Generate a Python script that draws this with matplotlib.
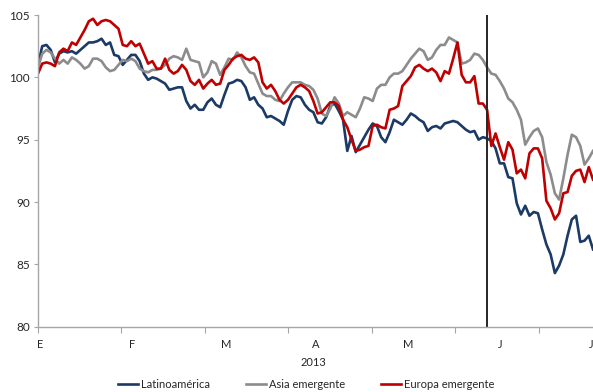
import numpy as np
import matplotlib
matplotlib.use("Agg")
from matplotlib import pyplot as plt

# índices base 100, datos diarios ene-jun 2013
latam = [101.0, 102.5, 102.6, 102.2, 101.2, 101.9, 102.1, 102.0, 102.1, 101.9,
         102.2, 102.5, 102.8, 102.8, 102.9, 103.1, 102.6, 102.8, 101.8, 101.7,
         101.0, 101.4, 101.8, 101.8, 101.3, 100.3, 99.8, 100.0, 99.9, 99.7,
         99.5, 99.0, 99.1, 99.2, 99.2, 98.1, 97.5, 97.8, 97.4, 97.4,
         98.0, 98.3, 97.8, 97.6, 98.6, 99.5, 99.6, 99.8, 99.7, 99.2,
         98.2, 98.4, 97.8, 97.5, 96.8, 96.9, 96.7, 96.5, 96.2, 97.3,
         98.2, 98.5, 98.4, 97.8, 97.4, 97.2, 96.4, 96.3, 96.8, 97.7,
         97.9, 97.3, 96.6, 94.1, 95.3, 94.0, 94.6, 95.2, 95.8, 96.3,
         96.1, 95.2, 94.8, 95.6, 96.6, 96.4, 96.2, 96.6, 97.1, 96.9,
         96.6, 96.4, 95.7, 96.0, 96.1, 95.9, 96.3, 96.4, 96.5, 96.4,
         96.1, 95.8, 95.6, 95.7, 95.0, 95.2, 95.1, 94.9, 94.3, 93.1,
         93.1, 92.0, 91.9, 89.9, 89.0, 89.7, 88.9, 89.2, 89.1, 87.8,
         86.6, 85.8, 84.3, 84.9, 85.8, 87.3, 88.6, 88.9, 86.8, 86.9,
         87.3, 86.2]

asia = [100.8, 101.9, 102.2, 102.0, 101.5, 101.1, 101.4, 101.1, 101.6, 101.4,
        101.1, 100.7, 100.9, 101.5, 101.5, 101.3, 100.8, 100.5, 100.6, 101.0,
        101.4, 101.3, 101.5, 101.3, 100.7, 100.5, 100.4, 100.6, 100.6, 100.7,
        101.0, 101.5, 101.7, 101.6, 101.4, 102.3, 101.4, 101.3, 101.2, 100.0,
        100.4, 101.3, 101.1, 100.2, 100.8, 101.5, 101.4, 102.0, 101.6, 100.9,
        100.4, 100.3, 99.5, 98.7, 98.5, 98.5, 98.2, 98.1, 98.7, 99.2,
        99.6, 99.6, 99.6, 99.4, 99.3, 99.0, 98.3, 97.1, 96.9, 97.5,
        98.4, 97.9, 96.9, 97.2, 97.0, 96.8, 97.5, 98.4, 98.3, 98.1,
        99.1, 99.4, 99.4, 100.0, 100.3, 100.3, 100.5, 101.0, 101.5, 101.9,
        102.3, 102.1, 101.4, 101.6, 102.2, 102.6, 102.6, 103.2, 103.0, 102.8,
        101.1, 101.2, 101.4, 101.9, 101.8, 101.4, 100.8, 100.3, 100.2, 99.7,
        99.1, 98.3, 98.0, 97.4, 96.6, 94.6, 95.2, 95.7, 95.9, 95.2,
        93.2, 92.2, 90.7, 90.2, 91.9, 93.8, 95.4, 95.2, 94.5, 93.0,
        93.5, 94.1]

europa = [100.3, 101.1, 101.2, 101.1, 100.9, 102.0, 102.3, 102.1, 102.8, 102.6,
          103.2, 103.8, 104.5, 104.7, 104.2, 104.5, 104.6, 104.5, 104.2, 103.9,
          102.6, 102.5, 102.9, 102.5, 102.7, 101.9, 101.1, 101.3, 100.7, 100.7,
          101.5, 100.6, 100.3, 100.5, 101.0, 100.6, 99.7, 99.4, 99.8, 99.1,
          99.5, 99.8, 99.4, 99.5, 100.6, 101.0, 101.5, 101.7, 101.8, 101.5,
          101.4, 101.6, 101.2, 99.6, 99.1, 99.4, 98.9, 98.2, 97.9, 98.2,
          98.7, 99.2, 99.4, 99.2, 98.9, 98.1, 97.1, 97.2, 97.6, 98.0,
          98.0, 97.7, 96.6, 96.0, 95.0, 94.1, 94.2, 94.4, 94.5, 96.1,
          96.2, 96.0, 95.9, 97.4, 97.5, 97.7, 99.3, 99.7, 100.1, 100.8,
          101.0, 100.7, 100.5, 100.7, 100.4, 99.7, 100.5, 100.3, 101.5, 102.8,
          100.2, 99.6, 99.6, 100.1, 97.9, 97.9, 97.4, 94.5, 95.5, 94.4,
          93.4, 94.8, 94.2, 92.3, 92.6, 91.9, 93.9, 94.3, 94.3, 93.5,
          90.1, 89.5, 88.6, 89.1, 90.7, 90.8, 92.1, 92.5, 92.6, 91.6,
          92.8, 91.8]

meses = ['E', 'F', 'M', 'A', 'M', 'J', 'J']
corte = 106  # linea vertical (fin de mayo)

plt.rcParams['font.family'] = ['Lato', 'DejaVu Sans']

fig = plt.figure(figsize=(5.93, 3.92), dpi=100)
ax = fig.add_axes([38/593, 0.1666, 555/593, 0.9617 - 0.1666])

x = np.arange(len(latam))
ax.plot(x, latam, color='#1B3A66', lw=1.9, label='Latinoamérica')
ax.plot(x, asia, color='#8C8C8C', lw=1.9, label='Asia emergente')
ax.plot(x, europa, color='#C00000', lw=1.9, label='Europa emergente')
ax.axvline(corte, color='#262626', lw=1.4)

ax.set_xlim(0, len(latam) - 1)
ax.set_ylim(80, 105)
ax.set_yticks(np.arange(80, 106, 5))

for s in ['top', 'right']:
    ax.spines[s].set_visible(False)
for s in ['left', 'bottom']:
    ax.spines[s].set_color('#A6A6A6')
    ax.spines[s].set_linewidth(1.0)

ax.tick_params(axis='y', length=3, color='#A6A6A6', labelsize=8.5,
               labelcolor='#262626', pad=3)
ax.set_xticks(np.arange(0, 131, 19.7))
ax.set_xticklabels([])
ax.tick_params(axis='x', which='major', length=4, color='#A6A6A6')
ax.set_xticks([0.5, 22.2, 44.4, 65.6, 87.3, 109, 130.6], minor=True)
ax.set_xticklabels(meses, minor=True)
ax.tick_params(axis='x', which='minor', length=0, labelsize=8,
               labelcolor='#262626', pad=9)

fig.text(313/593, 1 - 362/392, '2013', ha='center', va='center',
         fontsize=8, color='#262626')

fig.legend(loc='center', bbox_to_anchor=(306/593, 1 - 384/392), ncol=3,
           frameon=False, fontsize=8, handlelength=1.8, handletextpad=0.3,
           columnspacing=3.2, labelcolor='#262626')

fig.savefig('out.png', dpi=100)
